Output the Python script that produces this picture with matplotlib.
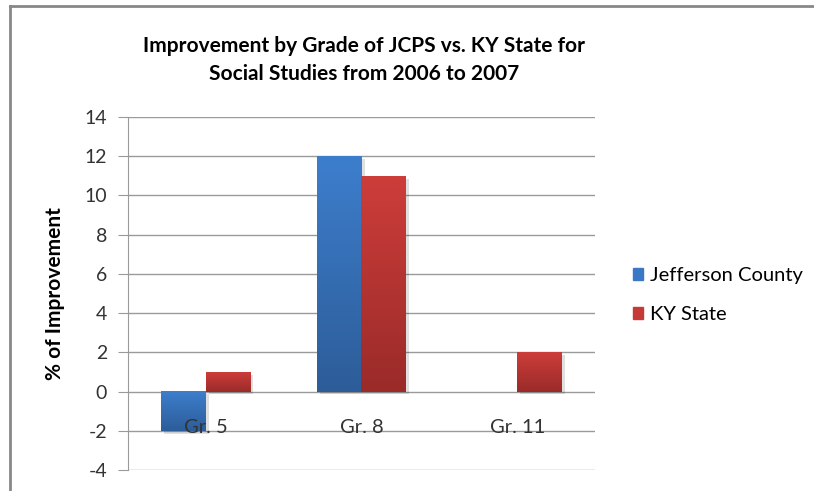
import matplotlib.pyplot as plt
import matplotlib.lines as mlines
from matplotlib.colors import LinearSegmentedColormap
import numpy as np

# 데이터
grades = ['Gr. 5', 'Gr. 8', 'Gr. 11']
jcps = [-2, 12, 0]
ky_state = [1, 11, 2]
y_ticks = [-4, -2, 0, 2, 4, 6, 8, 10, 12, 14]

plt.rcParams['font.family'] = ['Lato', 'DejaVu Sans']

fig = plt.figure(figsize=(8.14, 4.91), dpi=100)
ax = fig.add_axes([0.157, 0.0428, 0.574, 0.7193])

x = np.arange(len(grades))
w = 0.286

# 막대 그리기 (그라데이션은 막대 위치 그대로 사용)
bars_j = ax.bar(x - w / 2, jcps, w, color='#3A78C5', label='Jefferson County', zorder=3)
bars_k = ax.bar(x + w / 2, ky_state, w, color='#C53A37', label='KY State', zorder=3)


def add_gradient(bars, top_col, bot_col):
    grad = np.linspace(0, 1, 100).reshape(-1, 1)
    cmap = LinearSegmentedColormap.from_list('g', [bot_col, top_col])
    for b in bars:
        h = b.get_height()
        if h == 0:
            b.set_visible(False)
            continue
        x0 = b.get_x()
        x1 = x0 + b.get_width()
        y0 = min(0, h)
        y1 = max(0, h)
        # 그림자
        ax.add_patch(plt.Rectangle((x0 + 0.02, y0 - 0.15), b.get_width(), y1 - y0,
                                   color='#000000', alpha=0.12, zorder=2, lw=0))
        ax.imshow(grad, extent=[x0, x1, y0, y1], origin='lower', cmap=cmap,
                  aspect='auto', zorder=4)
        b.set_alpha(0)


add_gradient(bars_j, '#3D7ECC', '#2D5D99')
add_gradient(bars_k, '#CD3D3A', '#9A2B29')

ax.set_xlim(-0.5, 2.5)
ax.set_ylim(-4, 14)
ax.set_yticks(y_ticks)
ax.set_yticklabels([str(t) for t in y_ticks], fontsize=14, color='#333333')
ax.yaxis.grid(True, color='#9a9a9a', lw=1)
ax.set_axisbelow(True)
ax.tick_params(axis='y', length=7, color='#9a9a9a', pad=8)
ax.set_xticks([])
for s in ['top', 'right', 'bottom']:
    ax.spines[s].set_visible(False)
ax.spines['left'].set_color('#9a9a9a')

# x축 레이블 (-2 근처)
for xi, g in zip(x, grades):
    ax.text(xi, -1.85, g, ha='center', va='center', fontsize=14.5, color='#333333', zorder=6)

ax.set_ylabel('% of Improvement', fontsize=15, fontweight='bold', labelpad=14)

fig.text(0.447, 0.878, 'Improvement by Grade of JCPS vs. KY State for\nSocial Studies from 2006 to 2007',
         ha='center', va='center', fontsize=15, fontweight='bold', linespacing=1.5)

# 범례
handles = [plt.Rectangle((0, 0), 1, 1, color='#3A78C5'), plt.Rectangle((0, 0), 1, 1, color='#C53A37')]
fig.legend(handles, ['Jefferson County', 'KY State'], loc='center left',
           bbox_to_anchor=(0.755, 0.399), frameon=False, fontsize=14.5,
           handlelength=0.5, handleheight=0.5, handletextpad=0.35, labelspacing=1.1)

# 프레임 선
fig.add_artist(mlines.Line2D([0.012, 1.0], [0.988, 0.988], color='#888888', lw=2))
fig.add_artist(mlines.Line2D([0.012, 0.012], [0.0, 0.988], color='#888888', lw=2))

plt.savefig('out.png', dpi=100)
